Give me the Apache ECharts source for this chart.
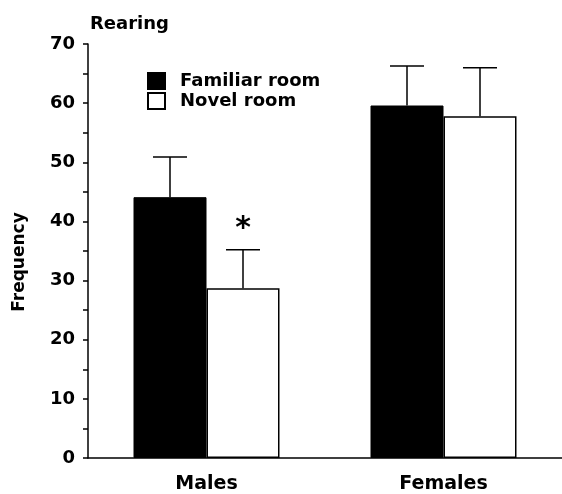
<!DOCTYPE html>
<html>
<head>
<meta charset="utf-8">
<script src="https://cdn.jsdelivr.net/npm/echarts@6/dist/echarts.min.js"></script>
<style>
html,body{margin:0;padding:0;background:#fff;}
#chart{width:562px;height:494px;}
</style>
</head>
<body>
<div id="chart"></div>
<script>
const categories = ['Males', 'Females'];
const seriesNames = ['Familiar room', 'Novel room'];
const familiar = [44.1, 59.6];
const familiarErr = [6.8, 6.7];
const novel = [28.7, 57.8];
const novelErr = [6.5, 8.2];
const novelSig = ['*', ''];
const yMin = 0, yMax = 70, yStep = 10;

const FONT = '"DejaVu Sans", Arial, sans-serif';
const BAR_W = 73;
const CAP_W = 34;

const chart = echarts.init(document.getElementById('chart'), null, {renderer: 'canvas'});

function errRender(offsetSign, vals, errs, sig) {
  return function (params, api) {
    const i = api.value(0);
    const base = api.coord([i, vals[i]]);
    const top = api.coord([i, vals[i] + errs[i]]);
    const x = base[0] + offsetSign * BAR_W / 2;
    const children = [
      {type: 'line', shape: {x1: x, y1: base[1], x2: x, y2: top[1]}, style: {stroke: '#000', lineWidth: 1.5}},
      {type: 'line', shape: {x1: x - CAP_W / 2, y1: top[1], x2: x + CAP_W / 2, y2: top[1]}, style: {stroke: '#000', lineWidth: 1.5}}
    ];
    if (sig && sig[i]) {
      children.push({type: 'text', x: x, y: top[1] - 21,
        style: {text: sig[i], align: 'center', verticalAlign: 'middle', fontSize: 30, fontWeight: 'bold', fontFamily: FONT, fill: '#000'}});
    }
    return {type: 'group', children: children};
  };
}

const option = {
  backgroundColor: '#fff',
  animation: false,
  title: {
    text: 'Rearing', left: 85, top: 10,
    textStyle: {fontSize: 18, fontWeight: 'bold', fontFamily: FONT, color: '#000'}
  },
  legend: {
    orient: 'vertical', left: 142, top: 67, itemGap: 2,
    itemWidth: 17, itemHeight: 16,
    icon: 'rect',
    data: seriesNames,
    textStyle: {fontSize: 18, fontWeight: 'bold', fontFamily: FONT, color: '#000', padding: [0, 0, 0, 10]}
  },
  graphic: [{
    type: 'text', x: 20, y: 262, rotation: Math.PI / 2,
    style: {text: 'Frequency', align: 'center', verticalAlign: 'middle', fontSize: 17, fontWeight: 'bold', fontFamily: FONT, fill: '#000'}
  }],
  grid: {left: 88, top: 44, width: 480, bottom: 35},
  xAxis: {
    type: 'category', data: categories,
    axisLine: {lineStyle: {color: '#000', width: 1.5}},
    axisTick: {show: false},
    axisLabel: {margin: 17, fontSize: 19, fontWeight: 'bold', fontFamily: FONT, color: '#000'}
  },
  yAxis: {
    type: 'value', min: yMin, max: yMax, interval: yStep,
    axisLine: {show: true, lineStyle: {color: '#000', width: 1.5}},
    axisTick: {show: true, inside: false, length: 5, lineStyle: {color: '#000', width: 1.5}},
    minorTick: {show: true, splitNumber: 2, length: 5, lineStyle: {color: '#000', width: 1.5}},
    splitLine: {show: false},
    axisLabel: {margin: 13, fontSize: 18, fontWeight: 'bold', fontFamily: FONT, color: '#000'}
  },
  series: [
    {name: seriesNames[0], type: 'bar', data: familiar, barWidth: BAR_W, barGap: '0%',
      itemStyle: {color: '#000', borderColor: '#000', borderWidth: 1}},
    {name: seriesNames[1], type: 'bar', data: novel, barWidth: BAR_W, barGap: '0%',
      itemStyle: {color: '#fff', borderColor: '#000', borderWidth: 1.5}},
    {type: 'custom', renderItem: errRender(-1, familiar, familiarErr, null),
      data: categories.map((c, i) => [i]), z: 5, silent: true},
    {type: 'custom', renderItem: errRender(1, novel, novelErr, novelSig),
      data: categories.map((c, i) => [i]), z: 5, silent: true}
  ]
};
chart.setOption(option);
</script>
</body>
</html>
